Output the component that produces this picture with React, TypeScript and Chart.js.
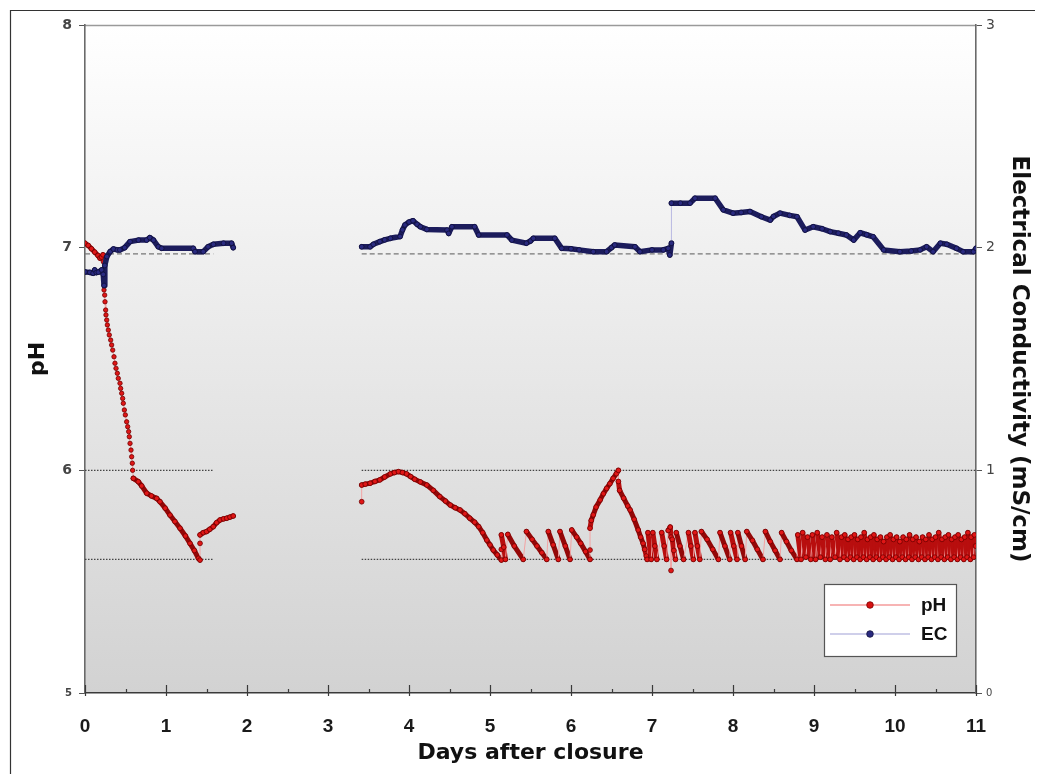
import React, { useEffect, useRef } from 'react';
import { Chart, registerables } from 'chart.js';

Chart.register(...registerables);

// ---------- data (day, value) ----------
const phRunA: [number, number][] = [
  [0, 7.02], [0.04, 7.01], [0.08, 6.995], [0.12, 6.98], [0.16, 6.965], [0.185, 6.953], [0.205, 6.958], [0.222, 6.968],
];

const phFastDrop: [number, number][] = [
  [0.226, 6.937], [0.232, 6.87], [0.2346, 6.81], [0.243, 6.787], [0.247, 6.757], [0.255, 6.72], [0.259, 6.698],
  [0.268, 6.675], [0.276, 6.653], [0.288, 6.63], [0.30, 6.608], [0.317, 6.585], [0.329, 6.563], [0.342, 6.54],
  [0.358, 6.51], [0.37, 6.481], [0.383, 6.458], [0.399, 6.436], [0.411, 6.413], [0.432, 6.391], [0.44, 6.368],
  [0.453, 6.346], [0.465, 6.323], [0.473, 6.301], [0.486, 6.271], [0.498, 6.249], [0.514, 6.218], [0.527, 6.196],
  [0.539, 6.174], [0.547, 6.151], [0.556, 6.121], [0.568, 6.091], [0.576, 6.061], [0.584, 6.032], [0.588, 6.0],
  [0.597, 5.964],
];

const phRunB: [number, number][] = [
  [0.597, 5.964], [0.658, 5.949], [0.70, 5.93], [0.762, 5.897], [0.82, 5.885], [0.885, 5.874], [0.926, 5.859],
  [0.99, 5.83], [1.049, 5.799], [1.11, 5.77], [1.173, 5.74], [1.24, 5.705], [1.296, 5.672], [1.35, 5.64],
  [1.40, 5.605], [1.42, 5.597], [1.42, 5.672], [1.42, 5.71], [1.46, 5.72], [1.50, 5.725], [1.54, 5.735],
  [1.584, 5.747], [1.625, 5.765], [1.667, 5.777], [1.71, 5.782], [1.75, 5.785], [1.79, 5.79], [1.83, 5.795],
];

const phRunC: [number, number][] = [
  [3.416, 5.859], [3.416, 5.934], [3.46, 5.938], [3.52, 5.942], [3.58, 5.95], [3.64, 5.957], [3.70, 5.97],
  [3.77, 5.984], [3.82, 5.99], [3.87, 5.994], [3.92, 5.99], [3.97, 5.984], [4.02, 5.972], [4.07, 5.96],
  [4.14, 5.948], [4.22, 5.934], [4.30, 5.91], [4.38, 5.882], [4.45, 5.862], [4.51, 5.844], [4.57, 5.832],
  [4.63, 5.822], [4.69, 5.805], [4.75, 5.785], [4.81, 5.767], [4.86, 5.747], [4.91, 5.72], [4.96, 5.687],
  [5.00, 5.665], [5.04, 5.642], [5.09, 5.62], [5.14, 5.597],
  [5.14, 5.645], [5.14, 5.71], [5.17, 5.655], [5.19, 5.60],
  [5.22, 5.712], [5.30, 5.66], [5.41, 5.60],
  [5.45, 5.725], [5.52, 5.69], [5.58, 5.66], [5.64, 5.63], [5.70, 5.60],
  [5.72, 5.725], [5.78, 5.665], [5.843, 5.60],
  [5.864, 5.725], [5.93, 5.66], [5.988, 5.60],
  [6.009, 5.732], [6.07, 5.70], [6.12, 5.672], [6.18, 5.635], [6.235, 5.60],
  [6.235, 5.642], [6.235, 5.74], [6.25, 5.775], [6.275, 5.80], [6.31, 5.835], [6.36, 5.867], [6.40, 5.895],
  [6.44, 5.919], [6.48, 5.94], [6.52, 5.964], [6.56, 5.985], [6.585, 6.0], [6.585, 5.95], [6.60, 5.91],
  [6.65, 5.875], [6.70, 5.84], [6.73, 5.822], [6.78, 5.78], [6.83, 5.732], [6.86, 5.70], [6.89, 5.672],
  [6.91, 5.645], [6.93, 5.615], [6.94, 5.60],
  [6.95, 5.72], [6.99, 5.60],
  [7.01, 5.72], [7.035, 5.66], [7.06, 5.60],
  [7.12, 5.72], [7.15, 5.66], [7.18, 5.60],
  [7.20, 5.73], [7.225, 5.745], [7.235, 5.70], [7.235, 5.55], [7.25, 5.69], [7.27, 5.64], [7.29, 5.60],
  [7.30, 5.72], [7.345, 5.66], [7.39, 5.60],
  [7.45, 5.72], [7.48, 5.66], [7.51, 5.60],
  [7.53, 5.72], [7.56, 5.66], [7.59, 5.60],
  [7.61, 5.725], [7.68, 5.69], [7.75, 5.645], [7.82, 5.60],
  [7.84, 5.72], [7.90, 5.66], [7.96, 5.60],
  [7.97, 5.72], [8.01, 5.66], [8.05, 5.60],
  [8.06, 5.72], [8.105, 5.66], [8.15, 5.60],
  [8.17, 5.725], [8.24, 5.685], [8.30, 5.645], [8.37, 5.60],
  [8.40, 5.725], [8.46, 5.68], [8.52, 5.64], [8.58, 5.60],
  [8.60, 5.72], [8.66, 5.68], [8.72, 5.64], [8.79, 5.60],
];

const phBand: [number, number][] = [
  [8.80, 5.71], [8.84, 5.60], [8.86, 5.72], [8.90, 5.61], [8.92, 5.70], [8.96, 5.60], [8.98, 5.71], [9.02, 5.60],
  [9.04, 5.72], [9.08, 5.61], [9.10, 5.70], [9.14, 5.60], [9.16, 5.71], [9.20, 5.60], [9.22, 5.70], [9.26, 5.61],
  [9.28, 5.72], [9.32, 5.60],
  [9.34, 5.70], [9.37, 5.61], [9.38, 5.71], [9.41, 5.60], [9.42, 5.69], [9.45, 5.61], [9.46, 5.70], [9.49, 5.60],
  [9.50, 5.71], [9.53, 5.61], [9.54, 5.69], [9.57, 5.60], [9.58, 5.70], [9.61, 5.61], [9.62, 5.72], [9.65, 5.60],
  [9.66, 5.69], [9.69, 5.61], [9.70, 5.70], [9.73, 5.60], [9.74, 5.71], [9.77, 5.61], [9.78, 5.69], [9.81, 5.60],
  [9.82, 5.70], [9.85, 5.61], [9.86, 5.68], [9.89, 5.60], [9.90, 5.70], [9.93, 5.61], [9.94, 5.71], [9.97, 5.60],
  [9.98, 5.69], [10.01, 5.61], [10.02, 5.70], [10.05, 5.60], [10.06, 5.68], [10.09, 5.61], [10.10, 5.70], [10.13, 5.60],
  [10.14, 5.69], [10.17, 5.61], [10.18, 5.71], [10.21, 5.60], [10.22, 5.69], [10.25, 5.61], [10.26, 5.70], [10.29, 5.60],
  [10.30, 5.68], [10.33, 5.61], [10.34, 5.70], [10.37, 5.60], [10.38, 5.69], [10.41, 5.61], [10.42, 5.71], [10.45, 5.60],
  [10.46, 5.69], [10.49, 5.61], [10.50, 5.70], [10.53, 5.60], [10.54, 5.72], [10.57, 5.61], [10.58, 5.69], [10.61, 5.60],
  [10.62, 5.70], [10.65, 5.61], [10.66, 5.71], [10.69, 5.60], [10.70, 5.69], [10.73, 5.61], [10.74, 5.70], [10.77, 5.60],
  [10.78, 5.71], [10.81, 5.61], [10.82, 5.69], [10.85, 5.60], [10.86, 5.70], [10.89, 5.61], [10.90, 5.72], [10.93, 5.60],
  [10.94, 5.70], [10.97, 5.61], [10.98, 5.71], [10.995, 5.66],
];

const ecRunA: [number, number][] = [
  [0, 1.891], [0.06, 1.889], [0.10, 1.885], [0.12, 1.90], [0.14, 1.888], [0.165, 1.89], [0.205, 1.90],
  [0.225, 1.88], [0.235, 1.83], [0.245, 1.92], [0.27, 1.96], [0.31, 1.982], [0.35, 1.994], [0.40, 1.99],
  [0.43, 1.99], [0.49, 2.0], [0.556, 2.027], [0.66, 2.034], [0.76, 2.034], [0.80, 2.045], [0.845, 2.034],
  [0.905, 2.004], [0.947, 1.997], [1.337, 1.997], [1.358, 1.982], [1.46, 1.982], [1.52, 2.004], [1.585, 2.015],
  [1.71, 2.02], [1.81, 2.02], [1.83, 2.0],
];

const ecRunB: [number, number][] = [
  [3.416, 2.004], [3.52, 2.004], [3.56, 2.015], [3.64, 2.027], [3.70, 2.035], [3.77, 2.042], [3.89, 2.05],
  [3.92, 2.08], [3.95, 2.102], [4.0, 2.115], [4.05, 2.121], [4.10, 2.105], [4.14, 2.094], [4.22, 2.082],
  [4.47, 2.079], [4.49, 2.064], [4.53, 2.094], [4.81, 2.094], [4.86, 2.057], [5.21, 2.057], [5.27, 2.034],
  [5.45, 2.02], [5.50, 2.03], [5.535, 2.042], [5.80, 2.042], [5.885, 1.997], [6.0, 1.995], [6.1, 1.99],
  [6.275, 1.982], [6.44, 1.982], [6.50, 2.0], [6.54, 2.012], [6.79, 2.004], [6.85, 1.982], [7.0, 1.99],
  [7.14, 1.99], [7.20, 1.997], [7.22, 1.967], [7.24, 2.02], [7.24, 2.2], [7.35, 2.20], [7.47, 2.20],
  [7.53, 2.222], [7.78, 2.222], [7.88, 2.17], [8.0, 2.155], [8.1, 2.158], [8.21, 2.162], [8.35, 2.139],
  [8.46, 2.124], [8.50, 2.14], [8.58, 2.155], [8.70, 2.145], [8.79, 2.139], [8.89, 2.079], [8.99, 2.094],
  [9.1, 2.085], [9.20, 2.072], [9.30, 2.065], [9.40, 2.057], [9.49, 2.034], [9.57, 2.067], [9.65, 2.058],
  [9.73, 2.049], [9.86, 1.99], [10.06, 1.982], [10.2, 1.985], [10.31, 1.99], [10.39, 2.004], [10.47, 1.982],
  [10.56, 2.02], [10.64, 2.015], [10.76, 1.997], [10.84, 1.982], [10.97, 1.982], [11.0, 1.997],
];

const refSpanStarts = [0, 3.416];
const refSpanEnds = [1.584, 11];
const dottedLevels = [6.0, 5.6];
const dashedLevel = 6.972;

const xTickValues = [0, 1, 2, 3, 4, 5, 6, 7, 8, 9, 10, 11];
const legendItems = ['pH', 'EC'];

// ---------- helpers ----------
const toXY = (pts: [number, number][]) => pts.map(([x, y]) => ({ x, y }));
const gap = (x: number) => ({ x, y: null as any });
const refLine = (level: number) => [
  { x: refSpanStarts[0], y: level }, { x: refSpanEnds[0], y: level }, gap((refSpanEnds[0] + refSpanStarts[1]) / 2),
  { x: refSpanStarts[1], y: level }, { x: refSpanEnds[1], y: level },
];

const PH_LINE = '#940808';
const PH_STEEP = '#b80e0e';
const PH_THIN = '#f3a3a3';
const EC_LINE = '#1c1c5c';
const EC_THIN = '#b9b9e2';
const PH_W = 5;
const EC_W = 5.5;

const phThin = (ctx: any) =>
  ctx.p0.parsed.x === ctx.p1.parsed.x || (ctx.p1.parsed.y > ctx.p0.parsed.y && ctx.p0.parsed.y < 5.625);
const phSteep = (ctx: any) =>
  Math.abs(ctx.p1.y - ctx.p0.y) > 4 * Math.abs(ctx.p1.x - ctx.p0.x);
const ecThin = (ctx: any) => ctx.p0.parsed.x === ctx.p1.parsed.x;

const bgPlugin = {
  id: 'bgPlugin',
  beforeDraw(chart: any) {
    const { ctx, chartArea } = chart;
    const { left, top, right, bottom } = chartArea;
    ctx.save();
    const g = ctx.createLinearGradient(0, top, 0, bottom);
    g.addColorStop(0, '#ffffff');
    g.addColorStop(1, '#d2d2d2');
    ctx.fillStyle = g;
    ctx.fillRect(left, top, right - left, bottom - top);
    ctx.strokeStyle = '#9a9a9a';
    ctx.lineWidth = 1.5;
    ctx.beginPath();
    ctx.moveTo(left, top + 0.5);
    ctx.lineTo(right, top + 0.5);
    ctx.stroke();
    ctx.strokeStyle = '#333';
    ctx.lineWidth = 1.2;
    ctx.beginPath();
    ctx.moveTo(2.5, chart.height);
    ctx.lineTo(2.5, 2.5);
    ctx.lineTo(chart.width + 10, 2.5);
    ctx.stroke();
    ctx.restore();
  },
};

const decoPlugin = {
  id: 'decoPlugin',
  afterDraw(chart: any) {
    const { ctx, chartArea, scales } = chart;
    const xs = scales.x;
    const b = chartArea.bottom;
    ctx.save();
    ctx.strokeStyle = '#3a3a3a';
    ctx.lineWidth = 1.2;
    xTickValues.forEach((v) => {
      const px = Math.round(xs.getPixelForValue(v)) + 0.5;
      ctx.beginPath();
      ctx.moveTo(px, b - 8);
      ctx.lineTo(px, b + 3);
      ctx.stroke();
      if (v < 11) {
        const pm = Math.round(xs.getPixelForValue(v + 0.5)) + 0.5;
        ctx.beginPath();
        ctx.moveTo(pm, b - 4);
        ctx.lineTo(pm, b);
        ctx.stroke();
      }
    });
    const bx = chartArea.right - 152;
    const by = chartArea.bottom - 109;
    const bw = 132;
    const bh = 72;
    ctx.fillStyle = '#ffffff';
    ctx.fillRect(bx, by, bw, bh);
    ctx.strokeStyle = '#555';
    ctx.lineWidth = 1.2;
    ctx.strokeRect(bx + 0.5, by + 0.5, bw, bh);
    const rows = [
      { line: '#f7b4b4', dot: '#d81010', border: '#7a0000' },
      { line: '#cfcfea', dot: '#2a2a80', border: '#10103c' },
    ];
    legendItems.forEach((label, i) => {
      const y = by + 21 + i * 29;
      ctx.strokeStyle = rows[i].line;
      ctx.lineWidth = 2;
      ctx.beginPath();
      ctx.moveTo(bx + 6, y);
      ctx.lineTo(bx + 86, y);
      ctx.stroke();
      ctx.fillStyle = rows[i].dot;
      ctx.strokeStyle = rows[i].border;
      ctx.lineWidth = 0.8;
      ctx.beginPath();
      ctx.arc(bx + 46, y, 3.3, 0, Math.PI * 2);
      ctx.fill();
      ctx.stroke();
      ctx.fillStyle = '#111';
      ctx.font = 'bold 19px "Liberation Sans"';
      ctx.textAlign = 'left';
      ctx.textBaseline = 'middle';
      ctx.fillText(label, bx + 97, y + 1);
    });
    ctx.restore();
  },
};

export default function App() {
  const ref = useRef<HTMLCanvasElement>(null);

  useEffect(() => {
    document.documentElement.style.overflow = 'hidden';
    document.body.style.overflow = 'hidden';
    const canvas = ref.current;
    if (!canvas) return;
    Chart.defaults.font.family = '"DejaVu Sans"';

    const phData = [
      ...toXY(phRunA), gap(0.4), ...toXY(phRunB), gap(2.6), ...toXY(phRunC), ...toXY(phBand),
    ];
    const ecData = [...toXY(ecRunA), gap(2.6), ...toXY(ecRunB)];

    const chart = new Chart(canvas, {
      type: 'line',
      data: {
        datasets: [
          {
            label: 'EC',
            data: ecData as any,
            yAxisID: 'y2',
            borderColor: EC_LINE,
            borderWidth: EC_W,
            borderJoinStyle: 'round',
            borderCapStyle: 'round',
            pointRadius: 2.4,
            pointBackgroundColor: '#2a2a80',
            pointBorderColor: '#0e0e38',
            pointBorderWidth: 0.8,
            spanGaps: false,
            order: 1,
            segment: {
              borderColor: (ctx: any) => (ecThin(ctx) ? EC_THIN : EC_LINE),
              borderWidth: (ctx: any) => (ecThin(ctx) ? 1 : EC_W),
            },
          } as any,
          {
            label: 'pH',
            data: phData as any,
            yAxisID: 'y',
            borderColor: PH_LINE,
            borderWidth: PH_W,
            borderJoinStyle: 'round',
            borderCapStyle: 'round',
            pointRadius: 2.4,
            pointBackgroundColor: '#e01616',
            pointBorderColor: '#700000',
            pointBorderWidth: 0.8,
            spanGaps: false,
            order: 2,
            segment: {
              borderColor: (ctx: any) => (phThin(ctx) ? PH_THIN : phSteep(ctx) ? PH_STEEP : PH_LINE),
              borderWidth: (ctx: any) => (phThin(ctx) ? 1 : PH_W),
            },
          } as any,
          {
            label: 'pH fast drop',
            data: toXY(phFastDrop) as any,
            yAxisID: 'y',
            borderColor: PH_THIN,
            borderWidth: 1,
            pointRadius: 2.2,
            pointBackgroundColor: '#e01616',
            pointBorderColor: '#700000',
            pointBorderWidth: 0.8,
            order: 2,
          } as any,
          {
            label: 'ref dashed',
            data: refLine(dashedLevel) as any,
            yAxisID: 'y',
            borderColor: '#777',
            borderWidth: 1.3,
            borderDash: [5, 3],
            pointRadius: 0,
            order: 5,
          } as any,
          ...dottedLevels.map((lv) => ({
            label: 'ref ' + lv,
            data: refLine(lv) as any,
            yAxisID: 'y',
            borderColor: '#444',
            borderWidth: 1.1,
            borderDash: [1.5, 1.5],
            pointRadius: 0,
            order: 5,
          })) as any,
        ],
      },
      options: {
        responsive: false,
        animation: false,
        events: [],
        layout: { padding: { top: 17, left: 0, right: 0, bottom: 0 } },
        plugins: { legend: { display: false }, tooltip: { enabled: false } },
        scales: {
          x: {
            type: 'linear',
            min: 0,
            max: 11,
            afterFit: (s: any) => { s.height = 81; },
            grid: { display: false },
            border: { display: true, color: '#3a3a3a', width: 1.6 },
            ticks: {
              stepSize: 1,
              autoSkip: false,
              maxRotation: 0,
              padding: 14,
              color: '#1a1a1a',
              font: { family: '"Liberation Sans"', size: 19, weight: 'bold' },
            },
            title: {
              display: true,
              text: 'Days after closure',
              color: '#111',
              font: { size: 22, weight: 'bold' },
              padding: { top: 0, bottom: 8 },
            },
          },
          y: {
            type: 'linear',
            position: 'left',
            min: 5,
            max: 8,
            afterFit: (s: any) => { s.width = 77; },
            grid: { drawOnChartArea: false, drawTicks: true, tickLength: 6, color: '#555' },
            border: { display: true, color: '#6a6a6a', width: 1.6 },
            ticks: {
              stepSize: 1,
              padding: 7,
              color: '#444',
              font: (c: any) => ({ size: c.tick && c.tick.value === 5 ? 10 : 14, weight: 'bold' }),
            },
            title: {
              display: true,
              text: 'pH',
              color: '#111',
              font: { size: 22, weight: 'bold' },
              padding: { top: 17, bottom: 0 },
            },
          },
          y2: {
            type: 'linear',
            position: 'right',
            min: 0,
            max: 3,
            afterFit: (s: any) => { s.width = 67; },
            grid: { drawOnChartArea: false, drawTicks: true, tickLength: 6, color: '#555' },
            border: { display: true, color: '#6a6a6a', width: 1.6 },
            ticks: {
              stepSize: 1,
              padding: 4,
              color: '#444',
              font: (c: any) => ({ size: c.tick && c.tick.value === 0 ? 10 : 14 }),
            },
            title: {
              display: true,
              text: 'Electrical Conductivity (mS/cm)',
              color: '#111',
              font: { size: 23, weight: 'bold' },
              padding: { top: 10, bottom: 0 },
            },
          },
        },
      } as any,
      plugins: [bgPlugin, decoPlugin],
    });

    return () => chart.destroy();
  }, []);

  return (
    <div style={{ width: 1035, height: 766, position: 'relative' }}>
      <canvas ref={ref} width={1035} height={766} style={{ display: 'block' }} />
    </div>
  );
}
